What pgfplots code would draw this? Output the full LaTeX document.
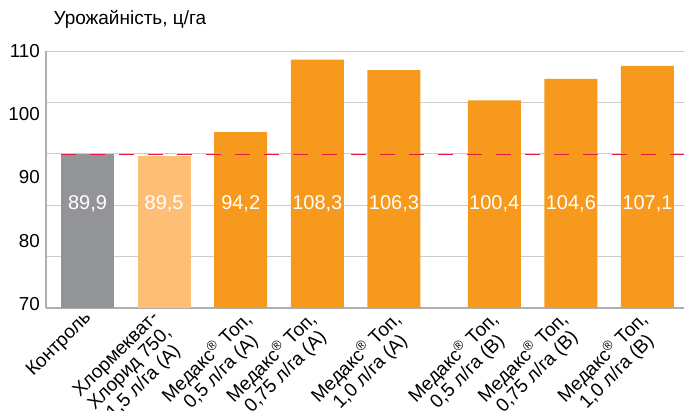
\documentclass[border=0pt]{standalone}
\usepackage{fontspec}
\setmainfont{Liberation Sans}
\usepackage{pgfplots}
\pgfplotsset{compat=1.18}

\definecolor{ctrlgrey}{RGB}{147,148,152}
\definecolor{lightorange}{RGB}{253,190,117}
\definecolor{medorange}{RGB}{247,153,29}
\definecolor{basered}{RGB}{226,26,60}
\definecolor{gridgrey}{RGB}{204,204,204}
\definecolor{axisgrey}{RGB}{175,175,175}

\begin{document}
\begin{tikzpicture}[x=1pt,y=1pt]
\begin{axis}[
    at={(46pt,103pt)}, anchor=south west,
    scale only axis,
    width=638pt, height=257pt,
    xmin=-0.542, xmax=7.787,
    ymin=60, ymax=110,
    axis x line*=bottom, axis y line*=left,
    axis line style={axisgrey, line width=1.2pt, -},
    ytick={60,70,...,110}, yticklabels={},
    ymajorgrids,
    grid style={gridgrey, line width=0.9pt},
    major tick length=0pt,
    extra y ticks={60.8,73.1,85.4,97.7,110},
    extra y tick labels={70,80,90,100,110},
    extra y tick style={grid=none},
    yticklabel style={font=\fontsize{18.8}{21}\selectfont, anchor=east, inner sep=0pt, xshift=-6pt},
    /pgf/number format/assume math mode=true,
    % label positions are nudged a little off the bar centres, as in the original
    xtick={-0.066,0.818,2.014,2.857,3.962,5.232,6.141,7.18},
    xticklabels={Контроль,
        {Хлормекват-\\Хлорид 750,\\1,5 л/га (A)},
        {Медакс\textsuperscript{®} Топ,\\0,5 л/га (A)},
        {Медакс\textsuperscript{®} Топ,\\0,75 л/га (A)},
        {Медакс\textsuperscript{®} Топ,\\1,0 л/га (A)},
        {Медакс\textsuperscript{®} Топ,\\0,5 л/га (B)},
        {Медакс\textsuperscript{®} Топ,\\0,75 л/га (B)},
        {Медакс\textsuperscript{®} Топ,\\1,0 л/га (B)}},
    xticklabel style={font=\fontsize{19}{19.5}\selectfont, rotate=45, anchor=north east, align=center, inner sep=0pt},
    xticklabel shift=1pt,
]
\addplot[ybar, bar width=53pt, bar shift=0pt, fill=ctrlgrey, draw=none]
    coordinates {(0,89.9)};
\addplot[ybar, bar width=53pt, bar shift=0pt, fill=lightorange, draw=none]
    coordinates {(1,89.5)};
\addplot[ybar, bar width=53pt, bar shift=0pt, fill=medorange, draw=none]
    coordinates {(2,94.2) (3,108.3) (4,106.3) (5.31,100.4) (6.31,104.6) (7.31,107.1)};
% control level
\addplot[basered, line width=1.3pt, dash pattern=on 15pt off 14pt]
    coordinates {(-0.345,89.9) (7.787,89.9)};
% value labels inside the bars
\addplot[draw=none, mark=none, nodes near coords, point meta=explicit symbolic,
    every node near coord/.append style={anchor=center, text=white,
        font=\fontsize{20}{22}\selectfont, inner sep=0pt}]
    table[meta=lbl, row sep=\\] {
    x y lbl \\
    0 80.2 89,9 \\
    1 80.2 89,5 \\
    2 80.2 94,2 \\
    3 80.2 108,3 \\
    4 80.2 106,3 \\
    5.31 80.2 100,4 \\
    6.31 80.2 104,6 \\
    7.31 80.2 107,1 \\
    };
\end{axis}
\node[anchor=base west, font=\fontsize{19}{22}\selectfont] at (50pt,386pt) {Урожайність, ц/га};
\pgfresetboundingbox
\path[use as bounding box] (0,0) rectangle (684pt,411pt);
\end{tikzpicture}
\end{document}
